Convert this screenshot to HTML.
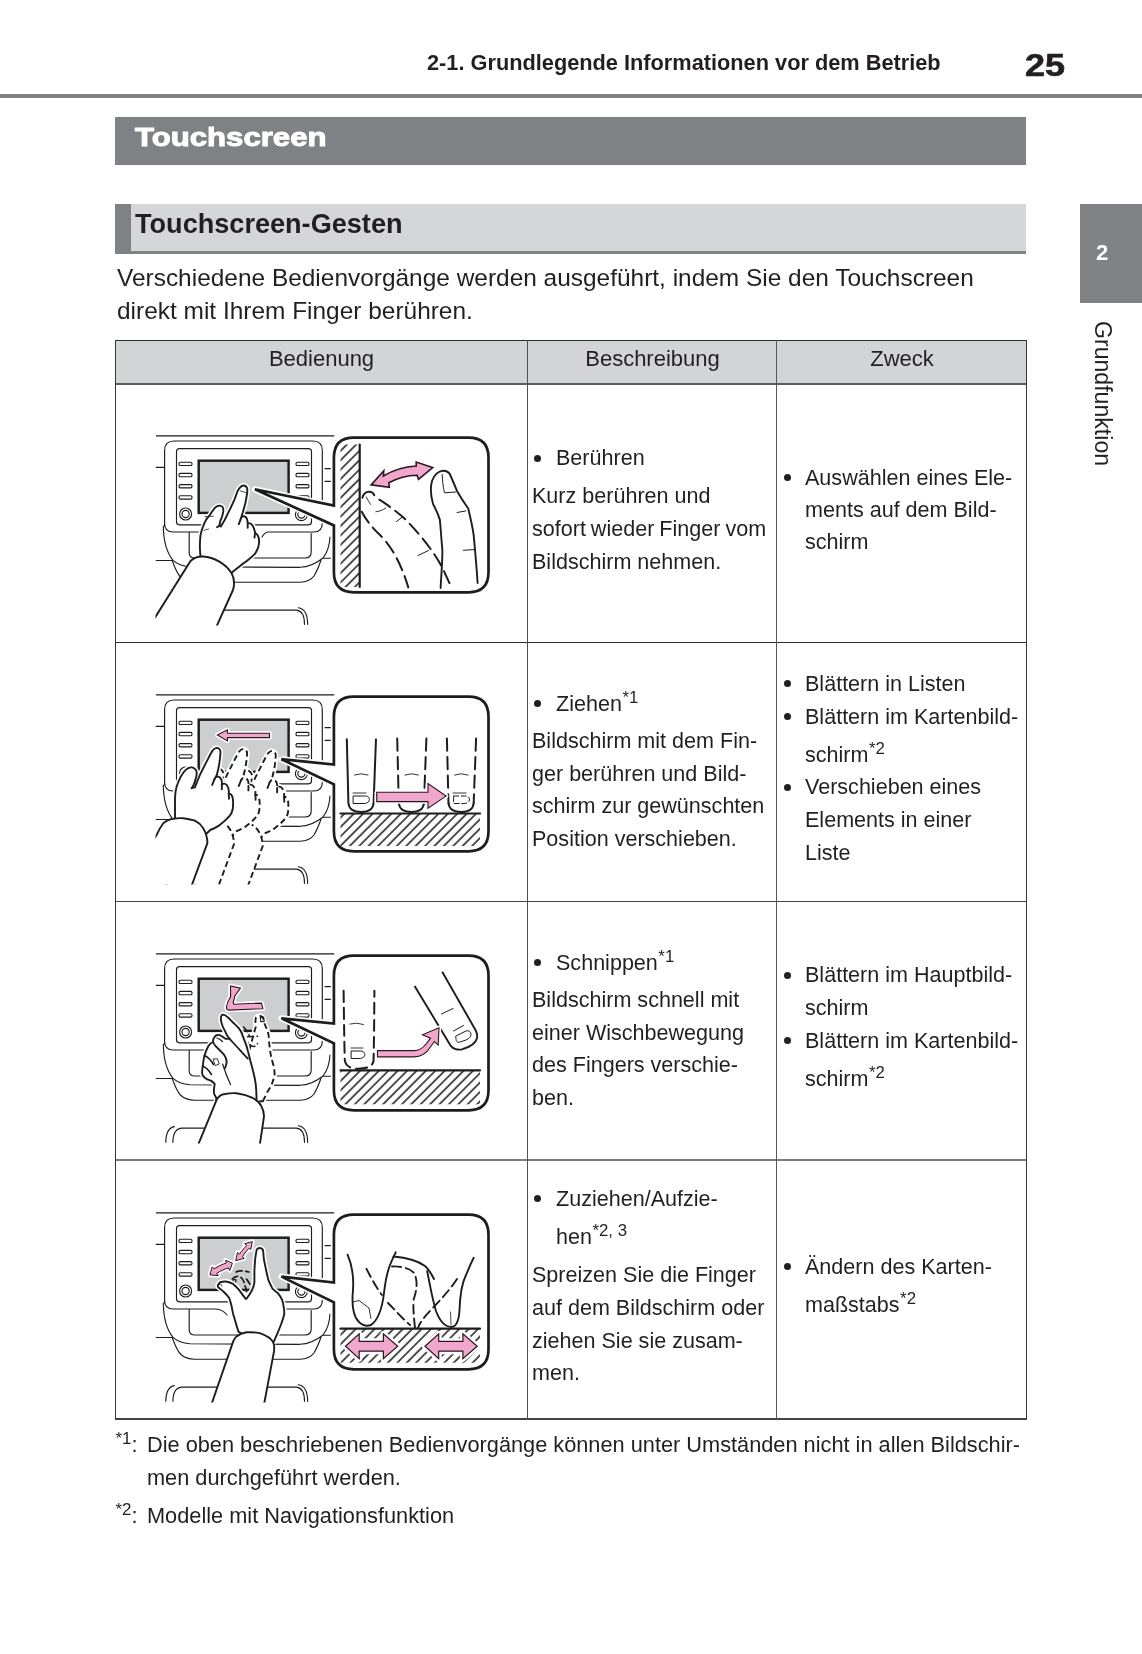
<!DOCTYPE html>
<html><head><meta charset="utf-8"><style>
*{margin:0;padding:0;box-sizing:border-box}
html,body{width:1142px;height:1654px;background:#fff;overflow:hidden}
body{position:relative;font-family:"Liberation Sans",sans-serif;color:#231f20}
.t{position:absolute;white-space:nowrap;line-height:1;will-change:transform}
.b{font-weight:bold}
.c{text-align:center}
.big{transform-origin:0 100%;transform:scaleX(1.18);-webkit-text-stroke:0.6px #231f20}
.h1{color:#fff;transform-origin:0 100%;transform:scaleX(1.175);-webkit-text-stroke:1px #fff}
.h2{color:#231f20}
.sup{font-size:0.78em;position:relative;top:-0.5em;margin-left:0.5px}
.bar1{position:absolute;left:115px;top:117px;width:911px;height:48px;background:#808185}
.bar2{position:absolute;left:115px;top:204px;width:911px;height:50px;background:#d5d6d8;border-bottom:3px solid #808185}
.stripe{position:absolute;left:0;top:0;width:16px;height:47px;background:#808185}
.hdrline{position:absolute;left:0;top:94px;width:1142px;height:3.5px;background:#808185}
.tab{position:absolute;left:1080px;top:204px;width:62px;height:99px;background:#808185}
.tabn{color:#fff}
.vt{position:absolute;left:1092px;top:320.5px;font-size:23.1px;line-height:1;white-space:nowrap;transform-origin:0 0;transform:translate(22px,0) rotate(90deg);will-change:transform}
.thead{position:absolute;left:115px;top:340px;width:911px;height:43.5px;background:#d3d4d6}
.hl{position:absolute;left:115px;width:912px;height:1.3px;background:#2b2b2b}
.vl{position:absolute;top:339.6px;height:1079.5px;width:1.3px;background:#2b2b2b}
.dot{position:absolute;width:7px;height:7px;border-radius:50%;background:#231f20}
</style></head><body>
<div class="hdrline"></div>
<div class="t b" style="left:427.0px;top:52.09px;font-size:21.75px;">2-1. Grundlegende Informationen vor dem Betrieb</div>
<div class="t b big" style="left:1024.8px;top:49.78px;font-size:30.5px;">25</div>
<div class="bar1"></div><div class="bar2"><div class="stripe"></div></div>
<div class="t b h1" style="left:134.5px;top:124.17px;font-size:26.5px;">Touchscreen</div>
<div class="t b h2" style="left:134.5px;top:210.36px;font-size:27.1px;">Touchscreen-Gesten</div>
<div class="t " style="left:116.5px;top:265.80px;font-size:24.45px;">Verschiedene Bedienvorgänge werden ausgeführt, indem Sie den Touchscreen</div>
<div class="t " style="left:116.5px;top:298.60px;font-size:24.45px;">direkt mit Ihrem Finger berühren.</div>
<div class="tab"></div><div class="t b tabn" style="left:1096.0px;top:242.18px;font-size:22px;">2</div>
<div class="vt">Grundfunktion</div>
<div class="thead"></div><div class="t c" style="left:116px;width:411px;top:347.78px;font-size:22px">Bedienung</div>
<div class="t c" style="left:528px;width:249px;top:347.78px;font-size:22px">Beschreibung</div>
<div class="t c" style="left:778px;width:248px;top:347.78px;font-size:22px">Zweck</div>
<div class="hl" style="top:339.6px;height:1.3px;background:#2b2b2b"></div><div class="hl" style="top:641.9px;height:1.3px;background:#2e2e2e"></div><div class="hl" style="top:900.6px;height:1.5px;background:#484848"></div><div class="hl" style="top:1159.0px;height:1.9px;background:#7a7a7a"></div><div class="hl" style="top:1418.0px;height:1.5px;background:#444"></div><div class="hl" style="top:383.1px;height:1.6px;background:#5c5d60"></div><div class="vl" style="left:115.0px;background:#383838"></div><div class="vl" style="left:526.9px;background:#505050"></div><div class="vl" style="left:776.2px;background:#575757"></div><div class="vl" style="left:1025.8px;background:#383838"></div>
<div class="dot" style="left:534.0px;top:454.6px"></div><div class="t " style="left:555.6px;top:447.36px;font-size:21.55px;">Berühren</div>
<div class="t " style="left:532.0px;top:484.96px;font-size:21.55px;">Kurz berühren und</div>
<div class="t " style="left:532.0px;top:517.76px;font-size:21.55px;word-spacing:-1px">sofort wieder Finger vom</div>
<div class="t " style="left:532.0px;top:550.66px;font-size:21.55px;">Bildschirm nehmen.</div>
<div class="dot" style="left:783.5px;top:473.9px"></div><div class="t " style="left:804.6px;top:466.66px;font-size:21.55px;">Auswählen eines Ele-</div>
<div class="t " style="left:804.6px;top:498.86px;font-size:21.55px;">ments auf dem Bild-</div>
<div class="t " style="left:804.6px;top:531.26px;font-size:21.55px;">schirm</div>
<div class="dot" style="left:534.0px;top:699.9px"></div><div class="t " style="left:555.6px;top:692.66px;font-size:21.55px;">Ziehen<span class="sup">*1</span></div>
<div class="t " style="left:532.0px;top:730.36px;font-size:21.55px;">Bildschirm mit dem Fin-</div>
<div class="t " style="left:532.0px;top:762.76px;font-size:21.55px;">ger berühren und Bild-</div>
<div class="t " style="left:532.0px;top:795.06px;font-size:21.55px;">schirm zur gewünschten</div>
<div class="t " style="left:532.0px;top:827.76px;font-size:21.55px;">Position verschieben.</div>
<div class="dot" style="left:783.5px;top:680.2px"></div><div class="t " style="left:804.6px;top:672.96px;font-size:21.55px;">Blättern in Listen</div>
<div class="dot" style="left:783.5px;top:713.0px"></div><div class="t " style="left:804.6px;top:705.76px;font-size:21.55px;">Blättern im Kartenbild-</div>
<div class="t " style="left:804.6px;top:743.86px;font-size:21.55px;">schirm<span class="sup">*2</span></div>
<div class="dot" style="left:783.5px;top:783.5px"></div><div class="t " style="left:804.6px;top:776.26px;font-size:21.55px;">Verschieben eines</div>
<div class="t " style="left:804.6px;top:809.16px;font-size:21.55px;">Elements in einer</div>
<div class="t " style="left:804.6px;top:841.96px;font-size:21.55px;">Liste</div>
<div class="dot" style="left:534.0px;top:959.0px"></div><div class="t " style="left:555.6px;top:951.76px;font-size:21.55px;">Schnippen<span class="sup">*1</span></div>
<div class="t " style="left:532.0px;top:989.36px;font-size:21.55px;">Bildschirm schnell mit</div>
<div class="t " style="left:532.0px;top:1021.76px;font-size:21.55px;">einer Wischbewegung</div>
<div class="t " style="left:532.0px;top:1053.96px;font-size:21.55px;">des Fingers verschie-</div>
<div class="t " style="left:532.0px;top:1087.26px;font-size:21.55px;">ben.</div>
<div class="dot" style="left:783.5px;top:971.6px"></div><div class="t " style="left:804.6px;top:964.36px;font-size:21.55px;">Blättern im Hauptbild-</div>
<div class="t " style="left:804.6px;top:997.16px;font-size:21.55px;">schirm</div>
<div class="dot" style="left:783.5px;top:1037.3px"></div><div class="t " style="left:804.6px;top:1030.06px;font-size:21.55px;">Blättern im Kartenbild-</div>
<div class="t " style="left:804.6px;top:1068.36px;font-size:21.55px;">schirm<span class="sup">*2</span></div>
<div class="dot" style="left:534.0px;top:1195.0px"></div><div class="t " style="left:555.6px;top:1187.76px;font-size:21.55px;">Zuziehen/Aufzie-</div>
<div class="t " style="left:555.6px;top:1226.06px;font-size:21.55px;">hen<span class="sup">*2, 3</span></div>
<div class="t " style="left:532.0px;top:1264.36px;font-size:21.55px;">Spreizen Sie die Finger</div>
<div class="t " style="left:532.0px;top:1297.26px;font-size:21.55px;">auf dem Bildschirm oder</div>
<div class="t " style="left:532.0px;top:1329.66px;font-size:21.55px;">ziehen Sie sie zusam-</div>
<div class="t " style="left:532.0px;top:1362.46px;font-size:21.55px;">men.</div>
<div class="dot" style="left:783.5px;top:1263.3px"></div><div class="t " style="left:804.6px;top:1256.06px;font-size:21.55px;">Ändern des Karten-</div>
<div class="t " style="left:804.6px;top:1293.86px;font-size:21.55px;">maßstabs<span class="sup">*2</span></div>
<div class="t " style="left:115.0px;top:1434.29px;font-size:21.75px;"><span class="sup">*1</span>:</div>
<div class="t " style="left:147.4px;top:1434.29px;font-size:21.75px;">Die oben beschriebenen Bedienvorgänge können unter Umständen nicht in allen Bildschir-</div>
<div class="t " style="left:147.4px;top:1467.09px;font-size:21.75px;">men durchgeführt werden.</div>
<div class="t " style="left:115.0px;top:1505.39px;font-size:21.75px;"><span class="sup">*2</span>:</div>
<div class="t " style="left:147.4px;top:1505.39px;font-size:21.75px;">Modelle mit Navigationsfunktion</div>
<svg style="position:absolute;left:0;top:0" width="1142" height="1654" viewBox="0 0 1142 1654"><defs>
<pattern id="hatch" width="6.65" height="6.65" patternUnits="userSpaceOnUse" patternTransform="rotate(45)">
<line x1="1" y1="-1" x2="1" y2="8" stroke="#111" stroke-width="1.45"/></pattern>
<clipPath id="c1"><rect x="150" y="425" width="350" height="201"/></clipPath>
</defs><defs><clipPath id="cr0"><rect x="155.5" y="425" width="345" height="200.5"/></clipPath><clipPath id="cr1"><rect x="155.5" y="684" width="345" height="200.5"/></clipPath><clipPath id="cr2"><rect x="155.5" y="943" width="345" height="200.5"/></clipPath><clipPath id="cr3"><rect x="155.5" y="1202" width="345" height="200.5"/></clipPath></defs><g clip-path="url(#cr0)"><g transform="translate(0,0)">
<g fill="none" stroke="#1d1d1d" stroke-width="1.15" stroke-linecap="round">
 <path d="M156.3,435.8H333.9"/>
 <path d="M164.6,526V450.5Q164.6,441 174.1,441H312.8Q322.3,441 322.3,450.5V523.5Q322.3,532 313.8,532H268C265,532.3 263.5,534.5 262,537 M216,532 C220,532.2 224,534.5 227,538 M216,532 H173.1Q164.6,532 164.6,523.5"/>
 <rect x="176.5" y="448.6" width="135" height="76.2" rx="3"/>
 <path d="M163.3,526C163.5,540 167,553 173,560.3C177,564 182,566 190,566.8L300,567.3C310,567 318,562 323,558C327,553 329.5,546 330,537"/>
 <path d="M172.4,561C175,568 177,574 181,577.5C184,580.5 188,582 195,582.2H300C306,582 311,580 314,576C317,571 319,566 321,560.3"/>
 <path d="M189.2,532.3V553Q189.2,558 195,558H305Q311.2,558 311.2,552V533.5"/>
 <path d="M156,467.4H164.4M325,468.6H330.5M325,481.3H330.5M156,560.5H173M323,558.2H331"/>
 <path d="M165.8,624.3Q166,610 174.4,608.6M172.9,624.3Q173,611 181.5,610.1H296.6Q304.5,611 304.5,624.3M298.2,607.8Q307.6,609 307.6,624.3"/>
 <g stroke-width="1.1">
  <rect x="179" y="462.2" width="13" height="3.3" rx="1.3"/><rect x="179" y="473.4" width="13" height="3.3" rx="1.3"/>
  <rect x="179" y="484.6" width="13" height="3.3" rx="1.3"/><rect x="179" y="495.8" width="13" height="3.3" rx="1.3"/>
  <rect x="296" y="462.2" width="13" height="3.3" rx="1.3"/><rect x="296" y="473.4" width="13" height="3.3" rx="1.3"/>
  <rect x="296" y="484.6" width="13" height="3.3" rx="1.3"/><rect x="296" y="495.8" width="13" height="3.3" rx="1.3"/>
 </g>
 <circle cx="185.6" cy="514" r="6"/><circle cx="185.6" cy="514" r="3.6"/>
 <circle cx="301.4" cy="514.6" r="6"/><circle cx="301.4" cy="514.6" r="3.6"/>
 <rect x="198.7" y="460.7" width="89.9" height="52.2" fill="#cdced0" stroke-width="2.45"/>
</g></g><path d="M200.8,558 C200,553.5 199.8,549 199.9,544.4 C200,541 200.2,538 200.5,535.2 C201.2,532 202,529 203,526.6 C204,524 205,521.8 206,519.9 C207.5,517.8 208.8,516 210.3,514.3 C211.8,512 213.2,510 214.6,508.2 C216,506.7 217.5,505.9 218.9,505.8 C219.6,505.6 220.3,505.6 220.8,505.8 C222,506.2 222.7,506.8 222.9,507.6 C223.3,509 223.4,510.5 223.2,511.9 C222.9,513.6 222.5,515.2 222,516.8 C221.3,518.5 220.6,520.1 220.1,521.7 C219.8,523 219.6,524.2 219.5,525.4 L220.8,526.6 C222,524.5 223.2,522.5 224.4,520.5 C226,517.3 227.7,514 229.3,510.7 C231,507.3 232.6,503.8 234.2,500.2 C235.4,497 236.6,493.6 237.9,490.4 C239,488.6 240.2,487 241.6,486.1 C242.4,485.6 243.2,485.4 244,485.5 C245.5,485.8 246.6,486.7 247.1,488 C247.4,489.8 247.4,491.7 247.1,493.5 C246.6,496.8 246,500 245.3,503.3 C244.5,506.4 243.7,509.5 242.8,512.5 C242,514.9 241.2,517.4 240.4,519.9 C241,517 242.2,516.2 243.4,516.2 C244.8,516.2 246,517 246.5,518 C247.2,519.5 247.6,521.2 247.7,522.9 C249,523 250.3,523.4 251.4,524.1 C252.5,525.2 253.4,526.7 253.9,528.4 C254.4,529.8 254.8,531.2 255.1,532.7 C256.5,533.5 257.6,534.8 258.2,536.4 C258.8,538 259.1,539.6 259.1,541.3 C259.1,543.4 258.8,545.4 258.2,547.4 C257.4,549.6 256.4,551.7 255.1,553.6 C253,555.8 250.7,557.8 248.3,559.7 C245.9,561.6 243.4,563.4 241,565.2 C238,567.6 234.9,570.1 231.8,572.6 L220,590 Z" fill="#fff" stroke="#fff" stroke-width="5" stroke-linejoin="round"/><path d="M200.8,558 C200,553.5 199.8,549 199.9,544.4 C200,541 200.2,538 200.5,535.2 C201.2,532 202,529 203,526.6 C204,524 205,521.8 206,519.9 C207.5,517.8 208.8,516 210.3,514.3 C211.8,512 213.2,510 214.6,508.2 C216,506.7 217.5,505.9 218.9,505.8 C219.6,505.6 220.3,505.6 220.8,505.8 C222,506.2 222.7,506.8 222.9,507.6 C223.3,509 223.4,510.5 223.2,511.9 C222.9,513.6 222.5,515.2 222,516.8 C221.3,518.5 220.6,520.1 220.1,521.7 C219.8,523 219.6,524.2 219.5,525.4 L220.8,526.6 C222,524.5 223.2,522.5 224.4,520.5 C226,517.3 227.7,514 229.3,510.7 C231,507.3 232.6,503.8 234.2,500.2 C235.4,497 236.6,493.6 237.9,490.4 C239,488.6 240.2,487 241.6,486.1 C242.4,485.6 243.2,485.4 244,485.5 C245.5,485.8 246.6,486.7 247.1,488 C247.4,489.8 247.4,491.7 247.1,493.5 C246.6,496.8 246,500 245.3,503.3 C244.5,506.4 243.7,509.5 242.8,512.5 C242,514.9 241.2,517.4 240.4,519.9 C241,517 242.2,516.2 243.4,516.2 C244.8,516.2 246,517 246.5,518 C247.2,519.5 247.6,521.2 247.7,522.9 C249,523 250.3,523.4 251.4,524.1 C252.5,525.2 253.4,526.7 253.9,528.4 C254.4,529.8 254.8,531.2 255.1,532.7 C256.5,533.5 257.6,534.8 258.2,536.4 C258.8,538 259.1,539.6 259.1,541.3 C259.1,543.4 258.8,545.4 258.2,547.4 C257.4,549.6 256.4,551.7 255.1,553.6 C253,555.8 250.7,557.8 248.3,559.7 C245.9,561.6 243.4,563.4 241,565.2 C238,567.6 234.9,570.1 231.8,572.6 L220,590 Z" fill="#fff" stroke="#1d1d1d" stroke-width="1.9" stroke-linejoin="round"/><path d="M240.4,519.9 C239.8,521.4 239.3,522.8 238.8,524.1 M247.7,522.9 L247.7,527.8 M255.1,532.7 C254.9,534.5 254.7,536 254.5,537.6 M219.5,525.4 C218.8,526.3 218,526.9 217.1,527.2" fill="none" stroke="#1d1d1d" stroke-width="1.9" stroke-linecap="round"/><path d="M240.5,491 C242.5,491.5 244.5,492.2 246.4,492.8 M204.8,516.8 L213.4,516.2 M204.2,530.3 L208.5,529" fill="none" stroke="#1d1d1d" stroke-width="0.8" stroke-linecap="round"/><path d="M146,632 L190.5,561 C194,557.5 198,556.3 203,556.5 C214,557 226,564 231.5,573 C234.5,578.5 234.5,585 233,590 L214,632 Z" fill="#fff" stroke="#1d1d1d" stroke-width="1.9" stroke-linejoin="round"/><path d="M254.9,489.3L333.9,505.6V457.6Q333.9,437.6 353.9,437.6H468.5Q488.5,437.6 488.5,457.6V572.3Q488.5,592.3 468.5,592.3H353.9Q333.9,592.3 333.9,572.3V525.4Z" fill="#fff" stroke="#fff" stroke-width="6" stroke-linejoin="round"/><path d="M254.9,489.3L333.9,505.6V457.6Q333.9,437.6 353.9,437.6H468.5Q488.5,437.6 488.5,457.6V572.3Q488.5,592.3 468.5,592.3H353.9Q333.9,592.3 333.9,572.3V525.4Z" fill="#fff" stroke="#1d1d1d" stroke-width="2.7" stroke-linejoin="miter"/><rect x="340.5" y="444.5" width="19.2" height="142.5" fill="url(#hatch)"/><path d="M359.7,444.5V587" fill="none" stroke="#1d1d1d" stroke-width="2.2" stroke-linecap="round"/><path d="M361.8,511.7 C366,520 372,527.5 380,535 C390,545 400,560 408.3,587.4" fill="none" stroke="#1d1d1d" stroke-width="2.0" stroke-linecap="round" stroke-dasharray="13 6.5"/><path d="M379.3,499.7 C385,503 396,511 405,519 C420,534 435,553 443,569 C446,576 449,582 451.5,587.4" fill="none" stroke="#1d1d1d" stroke-width="2.0" stroke-linecap="round" stroke-dasharray="13 6.5"/><path d="M362.4,497.8 C363.5,493.5 366.5,491.5 369.8,491.7 C372,491.9 373.6,493.4 374.3,495.3" fill="none" stroke="#1d1d1d" stroke-width="1.9" stroke-linecap="round"/><path d="M366.3,497 C367.5,499.5 369,502 370.5,504.4 M375.8,511.8 C379,511.5 383,510 385.7,508.1" fill="none" stroke="#1d1d1d" stroke-width="0.9" stroke-linecap="round"/><path d="M396.5,521.5 L403,516.5 M418,555.5 L428.5,550.5" fill="none" stroke="#1d1d1d" stroke-width="1.0" stroke-linecap="round"/><path d="M440.6,588 C441.5,570 443,555 442.2,548 C441,535 440.5,525 439.8,519.6 C437.5,512 434.5,507 433,503.8 C430.5,495 430.3,487 432,481 C434,475 438.5,471 443,470.7 C446,470.5 448.5,472 449.8,474 C452,479 455,486 457.1,491.2 C461,498 465,504 468.2,508.5 C471,520 473,530 473.7,535.3 C475,550 476.5,565 477.6,583" fill="none" stroke="#1d1d1d" stroke-width="1.9" stroke-linecap="round"/><path d="M442.2,474.5 C442.5,482 443.5,489 444.5,492.8 L455.6,492" fill="none" stroke="#1d1d1d" stroke-width="1.0" stroke-linecap="round"/><path d="M457.1,512.5 L465.8,510.9 M463.4,550.3 L475.3,549.5" fill="none" stroke="#1d1d1d" stroke-width="1.0" stroke-linecap="round"/><path d="M371.2,484.9 L383.8,470.7 L383.4,476 Q398,467 416.2,466 L416.2,462 L432.7,467.6 L418.5,479.4 L417.2,475.2 Q402,475.5 388.8,482.8 L389.4,487.3 Z" fill="#fff" stroke="#fff" stroke-width="4.5" stroke-linejoin="round"/><path d="M371.2,484.9 L383.8,470.7 L383.4,476 Q398,467 416.2,466 L416.2,462 L432.7,467.6 L418.5,479.4 L417.2,475.2 Q402,475.5 388.8,482.8 L389.4,487.3 Z" fill="#f1a7cb" stroke="#2a1620" stroke-width="1.6" stroke-linejoin="miter"/></g><g clip-path="url(#cr1)"><g transform="translate(0,259)">
<g fill="none" stroke="#1d1d1d" stroke-width="1.15" stroke-linecap="round">
 <path d="M156.3,435.8H333.9"/>
 <path d="M164.6,526V450.5Q164.6,441 174.1,441H312.8Q322.3,441 322.3,450.5V523.5Q322.3,532 313.8,532H268C265,532.3 263.5,534.5 262,537 M216,532 C220,532.2 224,534.5 227,538 M216,532 H173.1Q164.6,532 164.6,523.5"/>
 <rect x="176.5" y="448.6" width="135" height="76.2" rx="3"/>
 <path d="M163.3,526C163.5,540 167,553 173,560.3C177,564 182,566 190,566.8L300,567.3C310,567 318,562 323,558C327,553 329.5,546 330,537"/>
 <path d="M172.4,561C175,568 177,574 181,577.5C184,580.5 188,582 195,582.2H300C306,582 311,580 314,576C317,571 319,566 321,560.3"/>
 <path d="M189.2,532.3V553Q189.2,558 195,558H305Q311.2,558 311.2,552V533.5"/>
 <path d="M156,467.4H164.4M325,468.6H330.5M325,481.3H330.5M156,560.5H173M323,558.2H331"/>
 <path d="M165.8,624.3Q166,610 174.4,608.6M172.9,624.3Q173,611 181.5,610.1H296.6Q304.5,611 304.5,624.3M298.2,607.8Q307.6,609 307.6,624.3"/>
 <g stroke-width="1.1">
  <rect x="179" y="462.2" width="13" height="3.3" rx="1.3"/><rect x="179" y="473.4" width="13" height="3.3" rx="1.3"/>
  <rect x="179" y="484.6" width="13" height="3.3" rx="1.3"/><rect x="179" y="495.8" width="13" height="3.3" rx="1.3"/>
  <rect x="296" y="462.2" width="13" height="3.3" rx="1.3"/><rect x="296" y="473.4" width="13" height="3.3" rx="1.3"/>
  <rect x="296" y="484.6" width="13" height="3.3" rx="1.3"/><rect x="296" y="495.8" width="13" height="3.3" rx="1.3"/>
 </g>
 <circle cx="185.6" cy="514" r="6"/><circle cx="185.6" cy="514" r="3.6"/>
 <circle cx="301.4" cy="514.6" r="6"/><circle cx="301.4" cy="514.6" r="3.6"/>
 <rect x="198.7" y="460.7" width="89.9" height="52.2" fill="#cdced0" stroke-width="2.45"/>
</g></g><g transform="translate(55.3,3.0)"><path d="M175,826 L175,798.2 C175.2,794 175.7,790 176.6,786.6 C177.8,783 179.2,779.6 180.8,776.6 C182.3,773.8 184,771.5 185.8,769.9 C187.4,768.5 189,767.6 190.8,767.4 C192,767.3 193.2,767.6 194.1,768.3 C195.4,769.2 196.3,770.3 196.6,771.6 C196.9,773.8 196.6,776 195.8,778.2 C195.2,780.5 194.5,782.8 193.6,784.9 C193,786.1 192.3,787.2 191.6,788.2 L194.9,787.4 C196.5,783.2 198.2,779 199.9,774.9 C202.1,770.4 204.3,766 206.6,761.6 C208.4,758 210.3,754.4 212.4,750.8 C213.6,749 215,748 216.5,747.9 C218.5,747.9 220.2,749.5 220.5,752 C220.3,756 219.9,760 219.3,763.6 C218.6,767.5 217.8,771.2 216.9,774.7 C216.2,776.5 215.3,778 214.3,779.5 C215.3,777.3 216.8,776.3 218.6,776.7 C220.5,777.5 221.6,779.5 221.9,782 C222,783 221.9,784 221.8,784.9 C222.8,783.6 224.2,783.4 225.4,784 C227.2,785 228.3,787.4 228.7,790.2 C228.9,791.5 228.9,792.6 228.7,793.7 C230.4,793.4 231.9,795.2 232.6,797.6 C233.3,800.5 233.2,805 232.7,809.3 C232.1,812.5 230.9,814.8 229.2,816.4 C226.5,819.5 223,822.5 219.7,825.1 C216.5,827.2 213,829 210.2,830 L190,850 Z" fill="#fff" stroke="#fff" stroke-width="5" stroke-linejoin="round"/><path d="M175,826 L175,798.2 C175.2,794 175.7,790 176.6,786.6 C177.8,783 179.2,779.6 180.8,776.6 C182.3,773.8 184,771.5 185.8,769.9 C187.4,768.5 189,767.6 190.8,767.4 C192,767.3 193.2,767.6 194.1,768.3 C195.4,769.2 196.3,770.3 196.6,771.6 C196.9,773.8 196.6,776 195.8,778.2 C195.2,780.5 194.5,782.8 193.6,784.9 C193,786.1 192.3,787.2 191.6,788.2 L194.9,787.4 C196.5,783.2 198.2,779 199.9,774.9 C202.1,770.4 204.3,766 206.6,761.6 C208.4,758 210.3,754.4 212.4,750.8 C213.6,749 215,748 216.5,747.9 C218.5,747.9 220.2,749.5 220.5,752 C220.3,756 219.9,760 219.3,763.6 C218.6,767.5 217.8,771.2 216.9,774.7 C216.2,776.5 215.3,778 214.3,779.5 C215.3,777.3 216.8,776.3 218.6,776.7 C220.5,777.5 221.6,779.5 221.9,782 C222,783 221.9,784 221.8,784.9 C222.8,783.6 224.2,783.4 225.4,784 C227.2,785 228.3,787.4 228.7,790.2 C228.9,791.5 228.9,792.6 228.7,793.7 C230.4,793.4 231.9,795.2 232.6,797.6 C233.3,800.5 233.2,805 232.7,809.3 C232.1,812.5 230.9,814.8 229.2,816.4 C226.5,819.5 223,822.5 219.7,825.1 C216.5,827.2 213,829 210.2,830 L190,850 Z" fill="#fff" stroke="#1d1d1d" stroke-width="1.9" stroke-linejoin="round" stroke-dasharray="6 3.5"/><path d="M214.3,779.5 C213.6,781.5 212.9,783.3 212.2,784.9 M221.8,784.9 C221.9,786.3 221.9,787.6 221.8,789.4 M228.7,793.7 C228.9,795.3 229,796.8 229,798.8" fill="none" stroke="#1d1d1d" stroke-width="1.9" stroke-linecap="round" stroke-dasharray="6 3.5"/><path d="M140,862 L156.7,834.8 C158.5,830.5 160.8,826.5 163.3,823.2 C166,820.8 168.8,819.4 171.6,819 C175.5,818.3 179.4,818 183.3,818.2 C187.3,818.6 191.2,819.5 194.9,820.7 C198.5,822.5 201.2,825 203.2,828.2 C205,831 206.1,833.8 206.6,836.5 C207.2,838.8 207.4,841 207.4,843.1 L190,890 L140,890 Z" fill="#fff" stroke="#1d1d1d" stroke-width="1.9" stroke-linejoin="round" stroke-dasharray="6 3.5"/></g><g transform="translate(26.6,1.0)"><path d="M175,826 L175,798.2 C175.2,794 175.7,790 176.6,786.6 C177.8,783 179.2,779.6 180.8,776.6 C182.3,773.8 184,771.5 185.8,769.9 C187.4,768.5 189,767.6 190.8,767.4 C192,767.3 193.2,767.6 194.1,768.3 C195.4,769.2 196.3,770.3 196.6,771.6 C196.9,773.8 196.6,776 195.8,778.2 C195.2,780.5 194.5,782.8 193.6,784.9 C193,786.1 192.3,787.2 191.6,788.2 L194.9,787.4 C196.5,783.2 198.2,779 199.9,774.9 C202.1,770.4 204.3,766 206.6,761.6 C208.4,758 210.3,754.4 212.4,750.8 C213.6,749 215,748 216.5,747.9 C218.5,747.9 220.2,749.5 220.5,752 C220.3,756 219.9,760 219.3,763.6 C218.6,767.5 217.8,771.2 216.9,774.7 C216.2,776.5 215.3,778 214.3,779.5 C215.3,777.3 216.8,776.3 218.6,776.7 C220.5,777.5 221.6,779.5 221.9,782 C222,783 221.9,784 221.8,784.9 C222.8,783.6 224.2,783.4 225.4,784 C227.2,785 228.3,787.4 228.7,790.2 C228.9,791.5 228.9,792.6 228.7,793.7 C230.4,793.4 231.9,795.2 232.6,797.6 C233.3,800.5 233.2,805 232.7,809.3 C232.1,812.5 230.9,814.8 229.2,816.4 C226.5,819.5 223,822.5 219.7,825.1 C216.5,827.2 213,829 210.2,830 L190,850 Z" fill="#fff" stroke="#fff" stroke-width="5" stroke-linejoin="round"/><path d="M175,826 L175,798.2 C175.2,794 175.7,790 176.6,786.6 C177.8,783 179.2,779.6 180.8,776.6 C182.3,773.8 184,771.5 185.8,769.9 C187.4,768.5 189,767.6 190.8,767.4 C192,767.3 193.2,767.6 194.1,768.3 C195.4,769.2 196.3,770.3 196.6,771.6 C196.9,773.8 196.6,776 195.8,778.2 C195.2,780.5 194.5,782.8 193.6,784.9 C193,786.1 192.3,787.2 191.6,788.2 L194.9,787.4 C196.5,783.2 198.2,779 199.9,774.9 C202.1,770.4 204.3,766 206.6,761.6 C208.4,758 210.3,754.4 212.4,750.8 C213.6,749 215,748 216.5,747.9 C218.5,747.9 220.2,749.5 220.5,752 C220.3,756 219.9,760 219.3,763.6 C218.6,767.5 217.8,771.2 216.9,774.7 C216.2,776.5 215.3,778 214.3,779.5 C215.3,777.3 216.8,776.3 218.6,776.7 C220.5,777.5 221.6,779.5 221.9,782 C222,783 221.9,784 221.8,784.9 C222.8,783.6 224.2,783.4 225.4,784 C227.2,785 228.3,787.4 228.7,790.2 C228.9,791.5 228.9,792.6 228.7,793.7 C230.4,793.4 231.9,795.2 232.6,797.6 C233.3,800.5 233.2,805 232.7,809.3 C232.1,812.5 230.9,814.8 229.2,816.4 C226.5,819.5 223,822.5 219.7,825.1 C216.5,827.2 213,829 210.2,830 L190,850 Z" fill="#fff" stroke="#1d1d1d" stroke-width="1.9" stroke-linejoin="round" stroke-dasharray="6 3.5"/><path d="M214.3,779.5 C213.6,781.5 212.9,783.3 212.2,784.9 M221.8,784.9 C221.9,786.3 221.9,787.6 221.8,789.4 M228.7,793.7 C228.9,795.3 229,796.8 229,798.8" fill="none" stroke="#1d1d1d" stroke-width="1.9" stroke-linecap="round" stroke-dasharray="6 3.5"/><path d="M140,862 L156.7,834.8 C158.5,830.5 160.8,826.5 163.3,823.2 C166,820.8 168.8,819.4 171.6,819 C175.5,818.3 179.4,818 183.3,818.2 C187.3,818.6 191.2,819.5 194.9,820.7 C198.5,822.5 201.2,825 203.2,828.2 C205,831 206.1,833.8 206.6,836.5 C207.2,838.8 207.4,841 207.4,843.1 L190,890 L140,890 Z" fill="#fff" stroke="#1d1d1d" stroke-width="1.9" stroke-linejoin="round" stroke-dasharray="6 3.5"/></g><path d="M175,826 L175,798.2 C175.2,794 175.7,790 176.6,786.6 C177.8,783 179.2,779.6 180.8,776.6 C182.3,773.8 184,771.5 185.8,769.9 C187.4,768.5 189,767.6 190.8,767.4 C192,767.3 193.2,767.6 194.1,768.3 C195.4,769.2 196.3,770.3 196.6,771.6 C196.9,773.8 196.6,776 195.8,778.2 C195.2,780.5 194.5,782.8 193.6,784.9 C193,786.1 192.3,787.2 191.6,788.2 L194.9,787.4 C196.5,783.2 198.2,779 199.9,774.9 C202.1,770.4 204.3,766 206.6,761.6 C208.4,758 210.3,754.4 212.4,750.8 C213.6,749 215,748 216.5,747.9 C218.5,747.9 220.2,749.5 220.5,752 C220.3,756 219.9,760 219.3,763.6 C218.6,767.5 217.8,771.2 216.9,774.7 C216.2,776.5 215.3,778 214.3,779.5 C215.3,777.3 216.8,776.3 218.6,776.7 C220.5,777.5 221.6,779.5 221.9,782 C222,783 221.9,784 221.8,784.9 C222.8,783.6 224.2,783.4 225.4,784 C227.2,785 228.3,787.4 228.7,790.2 C228.9,791.5 228.9,792.6 228.7,793.7 C230.4,793.4 231.9,795.2 232.6,797.6 C233.3,800.5 233.2,805 232.7,809.3 C232.1,812.5 230.9,814.8 229.2,816.4 C226.5,819.5 223,822.5 219.7,825.1 C216.5,827.2 213,829 210.2,830 L190,850 Z" fill="#fff" stroke="#fff" stroke-width="5" stroke-linejoin="round"/><path d="M175,826 L175,798.2 C175.2,794 175.7,790 176.6,786.6 C177.8,783 179.2,779.6 180.8,776.6 C182.3,773.8 184,771.5 185.8,769.9 C187.4,768.5 189,767.6 190.8,767.4 C192,767.3 193.2,767.6 194.1,768.3 C195.4,769.2 196.3,770.3 196.6,771.6 C196.9,773.8 196.6,776 195.8,778.2 C195.2,780.5 194.5,782.8 193.6,784.9 C193,786.1 192.3,787.2 191.6,788.2 L194.9,787.4 C196.5,783.2 198.2,779 199.9,774.9 C202.1,770.4 204.3,766 206.6,761.6 C208.4,758 210.3,754.4 212.4,750.8 C213.6,749 215,748 216.5,747.9 C218.5,747.9 220.2,749.5 220.5,752 C220.3,756 219.9,760 219.3,763.6 C218.6,767.5 217.8,771.2 216.9,774.7 C216.2,776.5 215.3,778 214.3,779.5 C215.3,777.3 216.8,776.3 218.6,776.7 C220.5,777.5 221.6,779.5 221.9,782 C222,783 221.9,784 221.8,784.9 C222.8,783.6 224.2,783.4 225.4,784 C227.2,785 228.3,787.4 228.7,790.2 C228.9,791.5 228.9,792.6 228.7,793.7 C230.4,793.4 231.9,795.2 232.6,797.6 C233.3,800.5 233.2,805 232.7,809.3 C232.1,812.5 230.9,814.8 229.2,816.4 C226.5,819.5 223,822.5 219.7,825.1 C216.5,827.2 213,829 210.2,830 L190,850 Z" fill="#fff" stroke="#1d1d1d" stroke-width="1.9" stroke-linejoin="round"/><path d="M214.3,779.5 C213.6,781.5 212.9,783.3 212.2,784.9 M221.8,784.9 C221.9,786.3 221.9,787.6 221.8,789.4 M228.7,793.7 C228.9,795.3 229,796.8 229,798.8" fill="none" stroke="#1d1d1d" stroke-width="1.9" stroke-linecap="round"/><path d="M140,862 L156.7,834.8 C158.5,830.5 160.8,826.5 163.3,823.2 C166,820.8 168.8,819.4 171.6,819 C175.5,818.3 179.4,818 183.3,818.2 C187.3,818.6 191.2,819.5 194.9,820.7 C198.5,822.5 201.2,825 203.2,828.2 C205,831 206.1,833.8 206.6,836.5 C207.2,838.8 207.4,841 207.4,843.1 L190,890 L140,890 Z" fill="#fff" stroke="#1d1d1d" stroke-width="1.9" stroke-linejoin="round"/><path d="M217.4,735 L227.4,729.8 L227.4,733.3 L269.5,733.3 L269.5,737.6 L227.4,737.6 L227.4,740.9 Z" fill="#fff" stroke="#fff" stroke-width="4.5" stroke-linejoin="round"/><path d="M217.4,735 L227.4,729.8 L227.4,733.3 L269.5,733.3 L269.5,737.6 L227.4,737.6 L227.4,740.9 Z" fill="#f1a7cb" stroke="#2a1620" stroke-width="1.1" stroke-linejoin="miter"/><path d="M281.4,759.2L333.9,764.6V716.6Q333.9,696.6 353.9,696.6H468.5Q488.5,696.6 488.5,716.6V831.3Q488.5,851.3 468.5,851.3H353.9Q333.9,851.3 333.9,831.3V784.4Z" fill="#fff" stroke="#fff" stroke-width="6" stroke-linejoin="round"/><path d="M281.4,759.2L333.9,764.6V716.6Q333.9,696.6 353.9,696.6H468.5Q488.5,696.6 488.5,716.6V831.3Q488.5,851.3 468.5,851.3H353.9Q333.9,851.3 333.9,831.3V784.4Z" fill="#fff" stroke="#1d1d1d" stroke-width="2.7" stroke-linejoin="miter"/><rect x="340.5" y="813.5" width="139.5" height="32.5" fill="url(#hatch)"/><path d="M346.8,738.6 C347.5,765 348,790 348.4,803 C349,810 354,812 361.2,812 C368,812 373,810 373.6,803 C374,790 375,765 376,738.6" fill="#fff" stroke="#1d1d1d" stroke-width="2.0"/><path d="M354.5,775 Q361,772.5 368,775" fill="none" stroke="#1d1d1d" stroke-width="0.9" stroke-linecap="round"/><path d="M353,793 H366" fill="none" stroke="#1d1d1d" stroke-width="0.9" stroke-linecap="round"/><path d="M353.5,796 H365.5 C369,796 370,799 369,801 C368,803 366,803.5 363,803.5 H353.5 Z" fill="none" stroke="#1d1d1d" stroke-width="1.0" stroke-linecap="round"/><path d="M397.2,738.6 C397.9,765 398.4,790 398.8,803" fill="none" stroke="#1d1d1d" stroke-width="2.0" stroke-linecap="round" stroke-dasharray="12 6.5"/><path d="M426.4,738.6 C425.4,765 424.4,790 424.0,803" fill="none" stroke="#1d1d1d" stroke-width="2.0" stroke-linecap="round" stroke-dasharray="12 6.5"/><path d="M398.8,803 C399.4,810 404.4,812 411.6,812 C418.4,812 423.4,810 424.0,803" fill="none" stroke="#1d1d1d" stroke-width="2.0" stroke-linecap="round"/><path d="M404.9,775 Q411.4,772.5 418.4,775" fill="none" stroke="#1d1d1d" stroke-width="0.9" stroke-linecap="round"/><path d="M446.9,738.6 C447.6,765 448.1,790 448.5,803" fill="none" stroke="#1d1d1d" stroke-width="2.0" stroke-linecap="round" stroke-dasharray="12 6.5"/><path d="M476.1,738.6 C475.1,765 474.1,790 473.7,803" fill="none" stroke="#1d1d1d" stroke-width="2.0" stroke-linecap="round" stroke-dasharray="12 6.5"/><path d="M448.5,803 C449.1,810 454.1,812 461.3,812 C468.1,812 473.1,810 473.7,803" fill="none" stroke="#1d1d1d" stroke-width="2.0" stroke-linecap="round"/><path d="M454.6,775 Q461.1,772.5 468.1,775" fill="none" stroke="#1d1d1d" stroke-width="0.9" stroke-linecap="round"/><path d="M453.1,793 H466.1" fill="none" stroke="#1d1d1d" stroke-width="0.9" stroke-linecap="round"/><path d="M453.6,796 H465.6 C469.1,796 470.1,799 469.1,801 C468.1,803 466.1,803.5 463.1,803.5 H453.6 Z" fill="none" stroke="#1d1d1d" stroke-width="1.0" stroke-linecap="round" stroke-dasharray="5 2.5"/><path d="M340.5,813.5H480" fill="none" stroke="#1d1d1d" stroke-width="2.2" stroke-linecap="round"/><path d="M376.7,792.2 H428 V783.5 L446.1,796.1 L428,808.2 V801.6 H376.7 Z" fill="#fff" stroke="#fff" stroke-width="4.5" stroke-linejoin="round"/><path d="M376.7,792.2 H428 V783.5 L446.1,796.1 L428,808.2 V801.6 H376.7 Z" fill="#f1a7cb" stroke="#2a1620" stroke-width="1.1" stroke-linejoin="miter"/></g><g clip-path="url(#cr2)"><g transform="translate(0,518)">
<g fill="none" stroke="#1d1d1d" stroke-width="1.15" stroke-linecap="round">
 <path d="M156.3,435.8H333.9"/>
 <path d="M164.6,526V450.5Q164.6,441 174.1,441H312.8Q322.3,441 322.3,450.5V523.5Q322.3,532 313.8,532H268C265,532.3 263.5,534.5 262,537 M216,532 C220,532.2 224,534.5 227,538 M216,532 H173.1Q164.6,532 164.6,523.5"/>
 <rect x="176.5" y="448.6" width="135" height="76.2" rx="3"/>
 <path d="M163.3,526C163.5,540 167,553 173,560.3C177,564 182,566 190,566.8L300,567.3C310,567 318,562 323,558C327,553 329.5,546 330,537"/>
 <path d="M172.4,561C175,568 177,574 181,577.5C184,580.5 188,582 195,582.2H300C306,582 311,580 314,576C317,571 319,566 321,560.3"/>
 <path d="M189.2,532.3V553Q189.2,558 195,558H305Q311.2,558 311.2,552V533.5"/>
 <path d="M156,467.4H164.4M325,468.6H330.5M325,481.3H330.5M156,560.5H173M323,558.2H331"/>
 <path d="M165.8,624.3Q166,610 174.4,608.6M172.9,624.3Q173,611 181.5,610.1H296.6Q304.5,611 304.5,624.3M298.2,607.8Q307.6,609 307.6,624.3"/>
 <g stroke-width="1.1">
  <rect x="179" y="462.2" width="13" height="3.3" rx="1.3"/><rect x="179" y="473.4" width="13" height="3.3" rx="1.3"/>
  <rect x="179" y="484.6" width="13" height="3.3" rx="1.3"/><rect x="179" y="495.8" width="13" height="3.3" rx="1.3"/>
  <rect x="296" y="462.2" width="13" height="3.3" rx="1.3"/><rect x="296" y="473.4" width="13" height="3.3" rx="1.3"/>
  <rect x="296" y="484.6" width="13" height="3.3" rx="1.3"/><rect x="296" y="495.8" width="13" height="3.3" rx="1.3"/>
 </g>
 <circle cx="185.6" cy="514" r="6"/><circle cx="185.6" cy="514" r="3.6"/>
 <circle cx="301.4" cy="514.6" r="6"/><circle cx="301.4" cy="514.6" r="3.6"/>
 <rect x="198.7" y="460.7" width="89.9" height="52.2" fill="#cdced0" stroke-width="2.45"/>
</g></g><path d="M262.8,1101.3 C265,1097 267,1093 267.5,1091.7 C270,1088 271.5,1085.5 272.2,1083 C273.5,1079.5 274.5,1076.5 274.6,1073.6 C274.5,1070.5 274,1068.5 273.8,1066.5 C272.5,1062 271.3,1058 270.6,1053.9 C270,1050 269.5,1046 269.1,1042 C269,1039 268.8,1036 268.3,1033.4 C267,1029.5 265.5,1026 264.3,1023.1 C264,1019 262.5,1016.3 260.5,1016 C258,1015.8 256,1017 255.7,1018.4 C255.3,1021 255.4,1024 255.7,1027 L246,1062 L250,1101.3 Z" fill="#fff" stroke="#fff" stroke-width="5" stroke-linejoin="round"/><path d="M262.8,1101.3 C265,1097 267,1093 267.5,1091.7 C270,1088 271.5,1085.5 272.2,1083 C273.5,1079.5 274.5,1076.5 274.6,1073.6 C274.5,1070.5 274,1068.5 273.8,1066.5 C272.5,1062 271.3,1058 270.6,1053.9 C270,1050 269.5,1046 269.1,1042 C269,1039 268.8,1036 268.3,1033.4 C267,1029.5 265.5,1026 264.3,1023.1 C264,1019 262.5,1016.3 260.5,1016 C258,1015.8 256,1017 255.7,1018.4 C255.3,1021 255.4,1024 255.7,1027 L246,1062 L250,1101.3 Z" fill="#fff" stroke="#1d1d1d" stroke-width="1.9" stroke-linejoin="round" stroke-dasharray="6 3.5"/><path d="M260.3,1017.5 L263.6,1017.2 L264.2,1021.4 L260.8,1021.6 Z" fill="none" stroke="#1d1d1d" stroke-width="1.1" stroke-linecap="round"/><path d="M243.5,1027 C246.5,1030 248.5,1033 249.5,1036.5 M247.5,1036.8 L257.5,1036.2 M249.5,1044.5 C252.5,1047.5 256,1047 257.5,1043.5" fill="none" stroke="#1d1d1d" stroke-width="1.5" stroke-linecap="round" stroke-dasharray="6 3.5"/><path d="M222.5,1014.6 C226,1014.5 229,1018 232,1021.5 C235,1024.5 237.5,1026.5 239.1,1028.6 C241,1031 242,1033 242.3,1034.9 C243.5,1038 244.5,1040.5 245.4,1042.8 C246.5,1045.5 247.2,1048 247.8,1050.7 C248.8,1054 249.5,1057 250.2,1060.2 C251.3,1064 252.4,1068 253.3,1072 C254.3,1076 255.2,1080 255.7,1083.8 C256.2,1088.5 256.5,1093.5 256.5,1098 L256.5,1106 L216,1106 L216.3,1098 C214.5,1095.5 213.6,1093.5 213.9,1091.7 C213.9,1089 214.2,1086.5 214.7,1083.8 C213.5,1082.5 212.2,1081.5 210.8,1080.6 C208.5,1080 206.2,1079 204.5,1077.5 C202.8,1076 202,1074.5 202.1,1072.8 C202.2,1070 202.4,1067.5 202.9,1064.9 C203.3,1061.5 203.8,1058.5 204.5,1055.4 C205.5,1052 206.8,1049 208.4,1046 C210,1043.5 212,1042.5 213.1,1042 C213,1040.5 213.2,1039 213.9,1038.1 C214.8,1036.3 215.8,1035.2 217.1,1035 C218.5,1034.7 219.8,1035 221,1035.7 C222.5,1036.8 224,1038 225.7,1038.9 L229.7,1038.9 C227.5,1036.5 226,1034 225,1031 C223.5,1028.5 222.3,1026 221.8,1023.9 C221,1021.5 220.6,1019 221,1016.8 C221.3,1015.8 221.8,1015 222.5,1014.6 Z" fill="#fff" stroke="#fff" stroke-width="5" stroke-linejoin="round"/><path d="M222.5,1014.6 C226,1014.5 229,1018 232,1021.5 C235,1024.5 237.5,1026.5 239.1,1028.6 C241,1031 242,1033 242.3,1034.9 C243.5,1038 244.5,1040.5 245.4,1042.8 C246.5,1045.5 247.2,1048 247.8,1050.7 C248.8,1054 249.5,1057 250.2,1060.2 C251.3,1064 252.4,1068 253.3,1072 C254.3,1076 255.2,1080 255.7,1083.8 C256.2,1088.5 256.5,1093.5 256.5,1098 L256.5,1106 L216,1106 L216.3,1098 C214.5,1095.5 213.6,1093.5 213.9,1091.7 C213.9,1089 214.2,1086.5 214.7,1083.8 C213.5,1082.5 212.2,1081.5 210.8,1080.6 C208.5,1080 206.2,1079 204.5,1077.5 C202.8,1076 202,1074.5 202.1,1072.8 C202.2,1070 202.4,1067.5 202.9,1064.9 C203.3,1061.5 203.8,1058.5 204.5,1055.4 C205.5,1052 206.8,1049 208.4,1046 C210,1043.5 212,1042.5 213.1,1042 C213,1040.5 213.2,1039 213.9,1038.1 C214.8,1036.3 215.8,1035.2 217.1,1035 C218.5,1034.7 219.8,1035 221,1035.7 C222.5,1036.8 224,1038 225.7,1038.9 L229.7,1038.9 C227.5,1036.5 226,1034 225,1031 C223.5,1028.5 222.3,1026 221.8,1023.9 C221,1021.5 220.6,1019 221,1016.8 C221.3,1015.8 221.8,1015 222.5,1014.6 Z" fill="#fff" stroke="#1d1d1d" stroke-width="1.9" stroke-linejoin="round"/><path d="M213.1,1042 C214,1044 215,1045.5 215.5,1046 C217.5,1048 219.5,1050 221,1051.5 C223,1053.5 224.5,1055 225,1056.2 C226.5,1059 227,1061.5 226.5,1063.3 C226,1065.5 225.5,1067 225,1068" fill="none" stroke="#1d1d1d" stroke-width="1.8" stroke-linecap="round"/><path d="M229.7,1038.9 C233,1042.5 236,1046 239.1,1049.1 C242,1052.5 245,1055.5 247.8,1058.6" fill="none" stroke="#1d1d1d" stroke-width="1.8" stroke-linecap="round"/><path d="M204.5,1055.4 C208,1057 211,1060 213.5,1064.5 M202.6,1066 C206,1067.5 209,1070.5 211.5,1074.5" fill="none" stroke="#1d1d1d" stroke-width="1.6" stroke-linecap="round"/><path d="M213.5,1059 L217.5,1058.8 L219.2,1064 L215.5,1065.5 Z" fill="none" stroke="#1d1d1d" stroke-width="0.9" stroke-linecap="round"/><path d="M222.6,1064 C224.5,1070 227,1077 230.5,1084.6 M217,1038 C219,1038.5 221,1040 222.5,1041.5" fill="none" stroke="#1d1d1d" stroke-width="1.2" stroke-linecap="round"/><path d="M196,1150 L216.6,1099.8 C218.5,1096 221.5,1094.5 224.9,1094 C228.5,1093.3 232.5,1093 236.5,1093.2 C242.5,1094 248,1095.5 253.2,1098.2 C257,1100.5 260,1103 261.5,1106.5 C263.2,1109.5 264,1113 264,1116.5 L259,1150 Z" fill="#fff" stroke="#1d1d1d" stroke-width="1.9" stroke-linejoin="round"/><path d="M262.9,1008.7 L229,1010.1 C227,1010 226.2,1008.8 226.5,1006.8 C227,1003.5 228,1001 229.5,998.5 L230.6,997 L230.5,985.9 L240.5,988.1 L234.8,996 L233.8,1000.5 C233.2,1002 233,1003.5 234,1004.2 L261.5,1003.1 Z" fill="#fff" stroke="#fff" stroke-width="4.5" stroke-linejoin="round"/><path d="M262.9,1008.7 L229,1010.1 C227,1010 226.2,1008.8 226.5,1006.8 C227,1003.5 228,1001 229.5,998.5 L230.6,997 L230.5,985.9 L240.5,988.1 L234.8,996 L233.8,1000.5 C233.2,1002 233,1003.5 234,1004.2 L261.5,1003.1 Z" fill="#f1a7cb" stroke="#2a1620" stroke-width="1.1" stroke-linejoin="miter"/><path d="M281.4,1018.3L333.9,1023.6V975.6Q333.9,955.6 353.9,955.6H468.5Q488.5,955.6 488.5,975.6V1090.3Q488.5,1110.3 468.5,1110.3H353.9Q333.9,1110.3 333.9,1090.3V1043.4Z" fill="#fff" stroke="#fff" stroke-width="6" stroke-linejoin="round"/><path d="M281.4,1018.3L333.9,1023.6V975.6Q333.9,955.6 353.9,955.6H468.5Q488.5,955.6 488.5,975.6V1090.3Q488.5,1110.3 468.5,1110.3H353.9Q333.9,1110.3 333.9,1090.3V1043.4Z" fill="#fff" stroke="#1d1d1d" stroke-width="2.7" stroke-linejoin="miter"/><rect x="340.5" y="1070.3" width="139.5" height="34" fill="url(#hatch)"/><path d="M343.6,990.7 C344,1020 344.3,1045 344.8,1060 C345.5,1066 350,1068.7 358,1068.7 C366,1068.7 372.5,1067 373.5,1061 C374,1045 374.2,1020 374.4,990.7" fill="none" stroke="#1d1d1d" stroke-width="2.0" stroke-linecap="round" stroke-dasharray="11 6"/><path d="M350,1024 Q357,1022 363.5,1024.5 M351,1048 H363" fill="none" stroke="#1d1d1d" stroke-width="0.9" stroke-linecap="round"/><path d="M351.5,1051 H361 C364,1051 365.5,1054 364.5,1056 C363.5,1058 361.5,1058.5 359,1058.5 H351.5 Z" fill="none" stroke="#1d1d1d" stroke-width="1.0" stroke-linecap="round"/><path d="M414.6,986 L450.8,1045.9 C453,1049 458,1050.3 462,1049.3 C470,1047 476,1043 477,1038 C477.5,1035 476.5,1032 475.5,1030 L442.2,971.8" fill="#fff" stroke="#1d1d1d" stroke-width="1.9" stroke-linejoin="round"/><path d="M441.5,1014 L453,1008.5 M453.5,1031 L463.5,1025.5" fill="none" stroke="#1d1d1d" stroke-width="1.0" stroke-linecap="round"/><path d="M456,1036 L466,1031 C469,1030 471,1032 471,1034.5 C471,1037 469,1038.5 466,1040 L460,1042 C457.5,1043 456,1041.5 456,1039 Z" fill="none" stroke="#1d1d1d" stroke-width="1.0" stroke-linecap="round"/><path d="M340.5,1070.3H480" fill="none" stroke="#1d1d1d" stroke-width="2.2" stroke-linecap="round"/><path d="M377.5,1050.6 H414 C419.5,1050.6 423,1048 426,1044 L430.5,1038.2 L422.5,1034.8 L439,1027.8 L438.2,1045.1 L434.3,1041.5 L430.5,1047 C427,1052.5 422,1056.9 414,1056.9 H377.5 Z" fill="#fff" stroke="#fff" stroke-width="4.5" stroke-linejoin="round"/><path d="M377.5,1050.6 H414 C419.5,1050.6 423,1048 426,1044 L430.5,1038.2 L422.5,1034.8 L439,1027.8 L438.2,1045.1 L434.3,1041.5 L430.5,1047 C427,1052.5 422,1056.9 414,1056.9 H377.5 Z" fill="#f1a7cb" stroke="#2a1620" stroke-width="1.1" stroke-linejoin="miter"/></g><g clip-path="url(#cr3)"><g transform="translate(0,777)">
<g fill="none" stroke="#1d1d1d" stroke-width="1.15" stroke-linecap="round">
 <path d="M156.3,435.8H333.9"/>
 <path d="M164.6,526V450.5Q164.6,441 174.1,441H312.8Q322.3,441 322.3,450.5V523.5Q322.3,532 313.8,532H268C265,532.3 263.5,534.5 262,537 M216,532 C220,532.2 224,534.5 227,538 M216,532 H173.1Q164.6,532 164.6,523.5"/>
 <rect x="176.5" y="448.6" width="135" height="76.2" rx="3"/>
 <path d="M163.3,526C163.5,540 167,553 173,560.3C177,564 182,566 190,566.8L300,567.3C310,567 318,562 323,558C327,553 329.5,546 330,537"/>
 <path d="M172.4,561C175,568 177,574 181,577.5C184,580.5 188,582 195,582.2H300C306,582 311,580 314,576C317,571 319,566 321,560.3"/>
 <path d="M189.2,532.3V553Q189.2,558 195,558H305Q311.2,558 311.2,552V533.5"/>
 <path d="M156,467.4H164.4M325,468.6H330.5M325,481.3H330.5M156,560.5H173M323,558.2H331"/>
 <path d="M165.8,624.3Q166,610 174.4,608.6M172.9,624.3Q173,611 181.5,610.1H296.6Q304.5,611 304.5,624.3M298.2,607.8Q307.6,609 307.6,624.3"/>
 <g stroke-width="1.1">
  <rect x="179" y="462.2" width="13" height="3.3" rx="1.3"/><rect x="179" y="473.4" width="13" height="3.3" rx="1.3"/>
  <rect x="179" y="484.6" width="13" height="3.3" rx="1.3"/><rect x="179" y="495.8" width="13" height="3.3" rx="1.3"/>
  <rect x="296" y="462.2" width="13" height="3.3" rx="1.3"/><rect x="296" y="473.4" width="13" height="3.3" rx="1.3"/>
  <rect x="296" y="484.6" width="13" height="3.3" rx="1.3"/><rect x="296" y="495.8" width="13" height="3.3" rx="1.3"/>
 </g>
 <circle cx="185.6" cy="514" r="6"/><circle cx="185.6" cy="514" r="3.6"/>
 <circle cx="301.4" cy="514.6" r="6"/><circle cx="301.4" cy="514.6" r="3.6"/>
 <rect x="198.7" y="460.7" width="89.9" height="52.2" fill="#cdced0" stroke-width="2.45"/>
</g></g><path d="M236.2,1272 C238,1271 239.5,1270.8 241,1270.9 C244,1271 246.5,1271.3 248.9,1272 M232.3,1279.1 C233.5,1277.5 235.3,1276.6 237,1276.4 C239,1276.5 240.8,1277.2 241.8,1278.3 C243.5,1280.5 244.5,1283 244.9,1285.4 C245.6,1287.5 246.2,1289.6 246.5,1291.7 M246.5,1279.1 C248,1281 249.5,1283.2 250.4,1285.4 M256.7,1276 C259.5,1278.5 262,1281 264.6,1283.9" fill="none" stroke="#1d1d1d" stroke-width="1.7" stroke-linecap="round" stroke-dasharray="6 3.5"/><path d="M233,1281 C233.2,1279.6 234.5,1279 235.5,1279.6 C236.3,1280.3 236.2,1281.8 235.2,1282.3" fill="none" stroke="#1d1d1d" stroke-width="1.3" stroke-linecap="round"/><path d="M238.6,1331.9 C237.3,1328 236.3,1325 235.5,1321.7 C234.6,1319 233.8,1316.5 233.1,1313.8 C232.5,1311 232,1308.5 231.5,1305.9 C230.8,1303 230.2,1300.5 229.2,1298 C227.5,1295.5 225.6,1293.5 223.6,1291.7 C221.6,1290 219.8,1288.5 218.1,1287 C217.6,1285.5 218,1284.3 218.9,1283.9 C219.2,1283 219.4,1282.6 219.7,1282.3 C221.8,1281.6 223.9,1281.4 226,1281.5 C228.5,1282 231,1282.8 233.1,1283.9 C235,1285.5 236.9,1287.4 238.6,1289.4 C240,1291.2 241.3,1293 242.6,1294.9 C243.6,1296.2 244.6,1297.5 245.7,1298.8 L246.5,1298.8 C248.5,1296 250.5,1293 252,1290.2 C253.2,1287.6 254,1285 254.4,1282.3 C254.4,1278.3 254.4,1274.5 254.4,1270.5 C254.6,1266.5 254.9,1262.5 255.2,1258.6 C255.6,1255.5 256.1,1252.5 256.7,1249.6 C257.5,1248.5 258.7,1247.9 259.9,1248 C261.3,1248.1 262.5,1248.9 263,1250 C263.4,1253 263.6,1255.8 263.8,1258.6 C264.5,1262.5 265.3,1266.5 266.2,1270.5 C266.9,1274 267.7,1277.4 268.6,1280.7 C269.8,1283.4 271.1,1286 272.5,1288.6 C274.2,1290.3 276.1,1291.8 278,1293.3 C279.6,1295.2 281,1297.3 282,1299.6 C282.8,1301.6 283.3,1303.7 283.5,1305.9 C284,1308.5 284.3,1311.2 284.3,1313.8 C283.6,1317.3 282.5,1320.7 281.2,1324 C279.5,1328.5 277.6,1333 275.7,1337.4 L270,1350 Z" fill="#fff" stroke="#fff" stroke-width="5" stroke-linejoin="round"/><path d="M238.6,1331.9 C237.3,1328 236.3,1325 235.5,1321.7 C234.6,1319 233.8,1316.5 233.1,1313.8 C232.5,1311 232,1308.5 231.5,1305.9 C230.8,1303 230.2,1300.5 229.2,1298 C227.5,1295.5 225.6,1293.5 223.6,1291.7 C221.6,1290 219.8,1288.5 218.1,1287 C217.6,1285.5 218,1284.3 218.9,1283.9 C219.2,1283 219.4,1282.6 219.7,1282.3 C221.8,1281.6 223.9,1281.4 226,1281.5 C228.5,1282 231,1282.8 233.1,1283.9 C235,1285.5 236.9,1287.4 238.6,1289.4 C240,1291.2 241.3,1293 242.6,1294.9 C243.6,1296.2 244.6,1297.5 245.7,1298.8 L246.5,1298.8 C248.5,1296 250.5,1293 252,1290.2 C253.2,1287.6 254,1285 254.4,1282.3 C254.4,1278.3 254.4,1274.5 254.4,1270.5 C254.6,1266.5 254.9,1262.5 255.2,1258.6 C255.6,1255.5 256.1,1252.5 256.7,1249.6 C257.5,1248.5 258.7,1247.9 259.9,1248 C261.3,1248.1 262.5,1248.9 263,1250 C263.4,1253 263.6,1255.8 263.8,1258.6 C264.5,1262.5 265.3,1266.5 266.2,1270.5 C266.9,1274 267.7,1277.4 268.6,1280.7 C269.8,1283.4 271.1,1286 272.5,1288.6 C274.2,1290.3 276.1,1291.8 278,1293.3 C279.6,1295.2 281,1297.3 282,1299.6 C282.8,1301.6 283.3,1303.7 283.5,1305.9 C284,1308.5 284.3,1311.2 284.3,1313.8 C283.6,1317.3 282.5,1320.7 281.2,1324 C279.5,1328.5 277.6,1333 275.7,1337.4 L270,1350 Z" fill="#fff" stroke="#1d1d1d" stroke-width="1.9" stroke-linejoin="round"/><path d="M219.5,1284 C220.5,1283.5 221.5,1284.5 221.8,1286" fill="none" stroke="#1d1d1d" stroke-width="0.9" stroke-linecap="round"/><path d="M209.5,1410 L233.2,1341.4 C234,1339.5 235,1337.8 236.5,1336.4 C239.5,1334 243,1332.8 246.5,1332.3 C250.8,1332 255.3,1332.3 259.8,1333.1 C263.4,1334.3 266.8,1336 269.8,1338.1 C272,1340 273.4,1342.3 274,1344.8 C274.3,1347 274.3,1349.2 274,1351.4 L263,1410 Z" fill="#fff" stroke="#1d1d1d" stroke-width="1.9" stroke-linejoin="round"/><path d="M209.9,1274.9 L212.2,1266.8 L214,1268.9 C218,1266.3 222,1264.4 226.3,1263 L225.6,1260.3 L232.4,1263.2 L229.7,1270.5 L228.3,1267.9 C224.3,1269.2 220.3,1271.1 216.6,1273.4 L218.3,1275.6 Z" fill="#fff" stroke="#fff" stroke-width="4.5" stroke-linejoin="round"/><path d="M209.9,1274.9 L212.2,1266.8 L214,1268.9 C218,1266.3 222,1264.4 226.3,1263 L225.6,1260.3 L232.4,1263.2 L229.7,1270.5 L228.3,1267.9 C224.3,1269.2 220.3,1271.1 216.6,1273.4 L218.3,1275.6 Z" fill="#f1a7cb" stroke="#2a1620" stroke-width="1.0" stroke-linejoin="miter"/><path d="M235.7,1260.7 L237.5,1252.4 L239.5,1254.2 C242,1250.5 244.3,1247.6 246.8,1245.5 L244.7,1243.7 L252.3,1241.6 L250.7,1249.6 L249.2,1248.2 C246.8,1250.4 244.6,1253.2 242.5,1256.7 L244.2,1258.3 Z" fill="#fff" stroke="#fff" stroke-width="4.5" stroke-linejoin="round"/><path d="M235.7,1260.7 L237.5,1252.4 L239.5,1254.2 C242,1250.5 244.3,1247.6 246.8,1245.5 L244.7,1243.7 L252.3,1241.6 L250.7,1249.6 L249.2,1248.2 C246.8,1250.4 244.6,1253.2 242.5,1256.7 L244.2,1258.3 Z" fill="#f1a7cb" stroke="#2a1620" stroke-width="1.0" stroke-linejoin="miter"/><path d="M281.4,1276.6L333.9,1282.6V1234.6Q333.9,1214.6 353.9,1214.6H468.5Q488.5,1214.6 488.5,1234.6V1349.3Q488.5,1369.3 468.5,1369.3H353.9Q333.9,1369.3 333.9,1349.3V1302.4Z" fill="#fff" stroke="#fff" stroke-width="6" stroke-linejoin="round"/><path d="M281.4,1276.6L333.9,1282.6V1234.6Q333.9,1214.6 353.9,1214.6H468.5Q488.5,1214.6 488.5,1234.6V1349.3Q488.5,1369.3 468.5,1369.3H353.9Q333.9,1369.3 333.9,1349.3V1302.4Z" fill="#fff" stroke="#1d1d1d" stroke-width="2.7" stroke-linejoin="miter"/><rect x="340.5" y="1328.7" width="139.5" height="34" fill="url(#hatch)"/><path d="M345.5,1346.3 L359.2,1333.9 V1341.3 H383.4 V1333.9 L397.7,1346.3 L383.4,1358.7 V1351.2 H359.2 V1358.7 Z" fill="#fff" stroke="#fff" stroke-width="6" stroke-linejoin="round"/><path d="M345.5,1346.3 L359.2,1333.9 V1341.3 H383.4 V1333.9 L397.7,1346.3 L383.4,1358.7 V1351.2 H359.2 V1358.7 Z" fill="#f1a7cb" stroke="#2a1620" stroke-width="1.2"/><path d="M425.0,1346.3 L438.7,1333.9 V1341.3 H462.9 V1333.9 L477.2,1346.3 L462.9,1358.7 V1351.2 H438.7 V1358.7 Z" fill="#fff" stroke="#fff" stroke-width="6" stroke-linejoin="round"/><path d="M425.0,1346.3 L438.7,1333.9 V1341.3 H462.9 V1333.9 L477.2,1346.3 L462.9,1358.7 V1351.2 H438.7 V1358.7 Z" fill="#f1a7cb" stroke="#2a1620" stroke-width="1.2"/><path d="M366.5,1268.8 C372,1280 378,1290 382,1295 M388,1303 C395,1310 402,1318 410,1325 M392,1266.5 C400,1266 410,1268 414,1273 C418,1280 417,1290 413.5,1300 C413,1310 414,1318 415,1328 M457,1279 C450,1290 440,1300 431,1310 C425,1316 420,1322 418,1328" fill="none" stroke="#1d1d1d" stroke-width="1.9" stroke-linecap="round" stroke-dasharray="9 5"/><path d="M347.6,1254.7 C352,1265 354,1275 353,1290 C352,1300 353,1312 356,1318 C360,1325 366,1327 371,1325 C378,1320 382,1310 384,1293 C385,1285 386,1275 390,1265 C392,1260 394,1256 395.7,1252.3" fill="none" stroke="#1d1d1d" stroke-width="1.9" stroke-linecap="round"/><path d="M353,1302 L359,1300.5 L369,1308 L371,1318.5" fill="none" stroke="#1d1d1d" stroke-width="0.9" stroke-linecap="round"/><path d="M427.2,1271.2 C430,1285 432,1298 436,1311 C440,1322 446,1327 452,1327 C457,1326 459,1320 459.5,1310 C460,1295 462,1283 466,1275 C469,1268 471,1263 473.7,1257.8" fill="none" stroke="#1d1d1d" stroke-width="1.9" stroke-linecap="round"/><path d="M393.5,1256.5 C405,1257.5 418,1261 425,1266 C428.5,1269 431,1273 434,1279" fill="none" stroke="#1d1d1d" stroke-width="1.9" stroke-linecap="round"/><path d="M450.5,1312 L451,1325" fill="none" stroke="#1d1d1d" stroke-width="0.8" stroke-linecap="round"/><path d="M340.5,1328.7H480" fill="none" stroke="#1d1d1d" stroke-width="2.2" stroke-linecap="round"/></g></svg>
</body></html>
